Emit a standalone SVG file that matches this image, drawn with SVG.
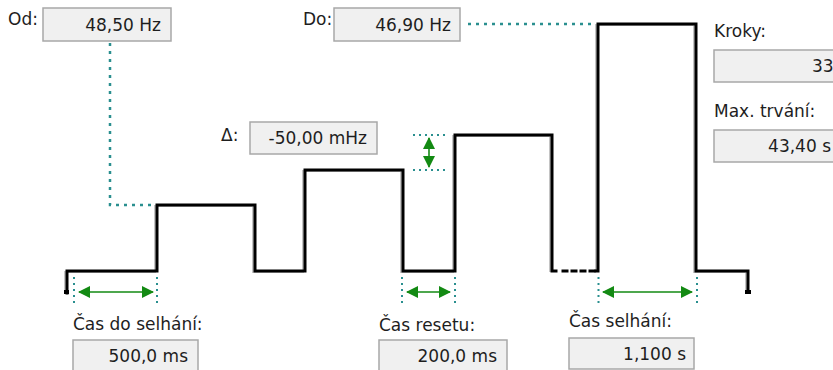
<svg xmlns="http://www.w3.org/2000/svg" width="833" height="370" viewBox="0 0 833 370">
  <style>
    text { font-family: "DejaVu Sans", "Liberation Sans", sans-serif; font-size: 17px; fill: #1e1e1e; }
    .val { text-anchor: end; }
    .box { fill: #f0f0f0; stroke: #a8a8a8; stroke-width: 1.5; }
    .wave { fill: none; stroke: #000; stroke-width: 3; stroke-linejoin: miter; stroke-linecap: square; }
    .shadow { fill: none; stroke: #c4c4c4; stroke-width: 2; }
    .guide { fill: none; stroke: #2a8f8f; stroke-width: 2.5; stroke-dasharray: 3 5; }
    .mark { fill: none; stroke: #2a8f8f; stroke-width: 2; stroke-dasharray: 2 4; }
    .dim { fill: none; stroke: #138a13; stroke-width: 1.6; marker-start: url(#ah); marker-end: url(#ah); }
  </style>
  <defs>
    <marker id="ah" viewBox="0 0 12 12" refX="11" refY="6" markerWidth="12" markerHeight="12" markerUnits="userSpaceOnUse" orient="auto-start-reverse">
      <path d="M0,0 L12,6 L0,12 Z" fill="#138a13"/>
    </marker>
  </defs>

  <g id="waveform">
    <g transform="translate(-2,1)">
      <path class="shadow" d="M67,293 L67,271 L157,271 L157,205 L255,205 L255,271 L305,271 L305,170 L403,170 L403,271 L455,271 L455,135 L552,135 L552,271 M598,271 L598,24 L696,24 L696,271 L748,271 L748,293"/>
    </g>
    <path class="wave" d="M67,293 L67,271 L157,271 L157,205 L255,205 L255,271 L305,271 L305,170 L403,170 L403,271 L455,271 L455,135 L552,135 L552,271 L556,271"/>
    <path class="wave" d="M563,271 L594,271" stroke-dasharray="4 5" stroke-linecap="butt"/>
    <path class="wave" d="M596,271 L598,271 L598,24 L696,24 L696,271 L748,271 L748,292"/>
    <rect x="64" y="290" width="5" height="4" fill="#000"/>
    <rect x="745" y="290" width="6" height="4" fill="#000"/>
  </g>

  <g id="connectors">
    <path class="guide" d="M110,43 L110,205 L155,205"/>
    <path class="guide" d="M468,24 L596,24"/>
    <path class="mark" d="M74,277 L74,306 M157,277 L157,306"/>
    <path class="mark" d="M402,277 L402,306 M455,277 L455,306"/>
    <path class="mark" d="M598.5,277 L598.5,306 M697,277 L697,306"/>
    <path class="mark" d="M413,135 L446,135 M413,170 L446,170"/>
    <path class="dim" d="M79,292 L153,292"/>
    <path class="dim" d="M407,292 L450,292"/>
    <path class="dim" d="M603,292 L692,292"/>
    <path class="dim" d="M429,138 L429,167"/>
  </g>

  <g id="od">
    <text x="8" y="25">Od:</text>
    <rect class="box" x="43" y="8" width="128" height="33"/>
    <text class="val" x="161" y="31">48,50 Hz</text>
  </g>
  <g id="do">
    <text x="303" y="25">Do:</text>
    <rect class="box" x="334" y="8" width="126" height="33"/>
    <text class="val" x="451" y="31">46,90 Hz</text>
  </g>
  <g id="delta">
    <text x="221" y="141">Δ:</text>
    <rect class="box" x="250" y="122" width="127" height="32"/>
    <text class="val" x="367" y="144">-50,00 mHz</text>
  </g>
  <g id="kroky">
    <text x="714" y="37">Kroky:</text>
    <rect class="box" x="714" y="50" width="130" height="32"/>
    <text x="812" y="72">33</text>
  </g>
  <g id="max-trvani">
    <text x="714" y="117">Max. trvání:</text>
    <rect class="box" x="714" y="130" width="130" height="32"/>
    <text class="val" x="831" y="152">43,40 s</text>
  </g>
  <g id="cas-do-selhani">
    <text x="73" y="330">Čas do selhání:</text>
    <rect class="box" x="73" y="340" width="125" height="33"/>
    <text class="val" x="188" y="362">500,0 ms</text>
  </g>
  <g id="cas-resetu">
    <text x="379" y="331">Čas resetu:</text>
    <rect class="box" x="379" y="340" width="128" height="33"/>
    <text class="val" x="497" y="362">200,0 ms</text>
  </g>
  <g id="cas-selhani">
    <text x="569" y="327">Čas selhání:</text>
    <rect class="box" x="569" y="338" width="125" height="31"/>
    <text class="val" x="686" y="360">1,100 s</text>
  </g>
</svg>
